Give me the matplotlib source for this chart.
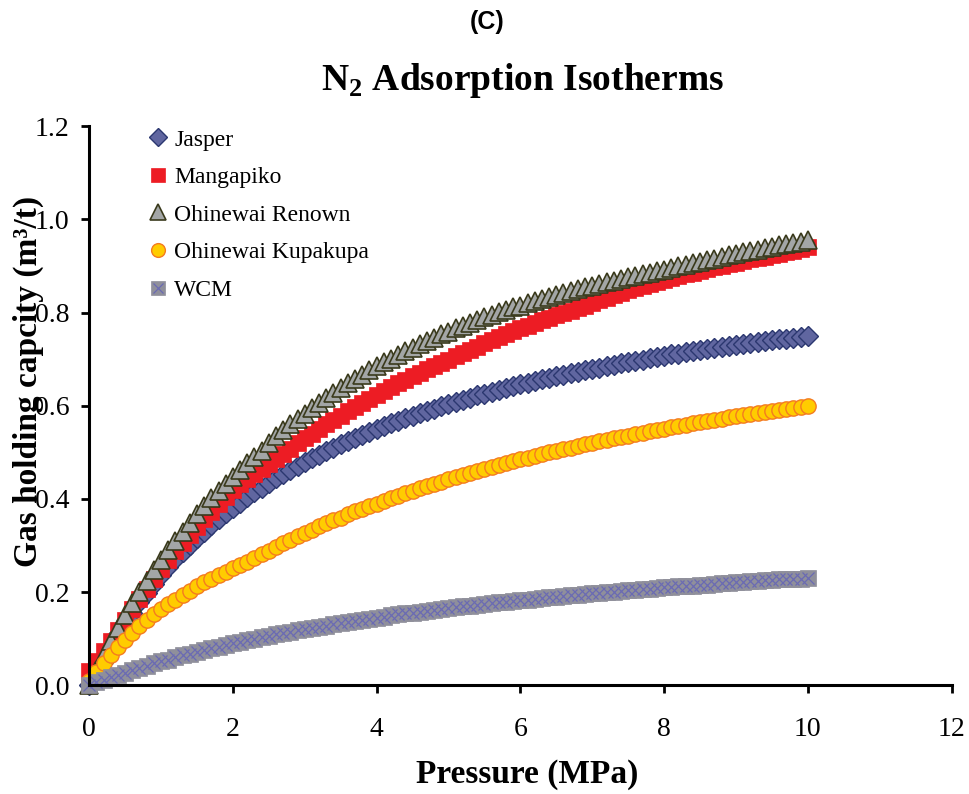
import matplotlib
matplotlib.use("Agg")
import matplotlib.pyplot as plt

# pressure steps (MPa)
pressure = [
    0.0, 0.1, 0.2, 0.3, 0.4, 0.5, 0.6, 0.7, 0.8, 0.9,
    1.0, 1.1, 1.2, 1.3, 1.4, 1.5, 1.6, 1.7, 1.8, 1.9,
    2.0, 2.1, 2.2, 2.3, 2.4, 2.5, 2.6, 2.7, 2.8, 2.9,
    3.0, 3.1, 3.2, 3.3, 3.4, 3.5, 3.6, 3.7, 3.8, 3.9,
    4.0, 4.1, 4.2, 4.3, 4.4, 4.5, 4.6, 4.7, 4.8, 4.9,
    5.0, 5.1, 5.2, 5.3, 5.4, 5.5, 5.6, 5.7, 5.8, 5.9,
    6.0, 6.1, 6.2, 6.3, 6.4, 6.5, 6.6, 6.7, 6.8, 6.9,
    7.0, 7.1, 7.2, 7.3, 7.4, 7.5, 7.6, 7.7, 7.8, 7.9,
    8.0, 8.1, 8.2, 8.3, 8.4, 8.5, 8.6, 8.7, 8.8, 8.9,
    9.0, 9.1, 9.2, 9.3, 9.4, 9.5, 9.6, 9.7, 9.8, 9.9,
    10.0,
]

# gas holding capacity (m3/t)
jasper = [
    0.000, 0.030, 0.058, 0.085, 0.110, 0.134, 0.156, 0.178, 0.198, 0.217,
    0.236, 0.253, 0.270, 0.286, 0.301, 0.316, 0.330, 0.343, 0.356, 0.369,
    0.381, 0.392, 0.403, 0.414, 0.424, 0.434, 0.444, 0.453, 0.462, 0.471,
    0.479, 0.487, 0.495, 0.503, 0.510, 0.517, 0.524, 0.531, 0.537, 0.544,
    0.550, 0.556, 0.562, 0.568, 0.573, 0.579, 0.584, 0.589, 0.594, 0.599,
    0.604, 0.608, 0.613, 0.617, 0.622, 0.626, 0.630, 0.634, 0.638, 0.642,
    0.646, 0.649, 0.653, 0.657, 0.660, 0.663, 0.667, 0.670, 0.673, 0.676,
    0.679, 0.682, 0.685, 0.688, 0.691, 0.694, 0.697, 0.699, 0.702, 0.705,
    0.707, 0.710, 0.712, 0.715, 0.717, 0.719, 0.722, 0.724, 0.726, 0.728,
    0.730, 0.732, 0.735, 0.737, 0.739, 0.741, 0.743, 0.744, 0.746, 0.748,
    0.750,
]

mangapiko = [
    0.030, 0.052, 0.074, 0.096, 0.118, 0.140, 0.163, 0.185, 0.207, 0.229,
    0.250, 0.269, 0.288, 0.306, 0.323, 0.340, 0.356, 0.372, 0.388, 0.404,
    0.420, 0.431, 0.442, 0.453, 0.464, 0.475, 0.486, 0.497, 0.508, 0.519,
    0.530, 0.540, 0.550, 0.560, 0.570, 0.579, 0.588, 0.597, 0.606, 0.615,
    0.624, 0.632, 0.640, 0.648, 0.656, 0.664, 0.671, 0.678, 0.685, 0.692,
    0.699, 0.706, 0.713, 0.720, 0.727, 0.734, 0.741, 0.748, 0.754, 0.760,
    0.766, 0.772, 0.778, 0.784, 0.789, 0.794, 0.799, 0.804, 0.809, 0.815,
    0.820, 0.826, 0.831, 0.837, 0.842, 0.848, 0.853, 0.857, 0.862, 0.866,
    0.870, 0.874, 0.878, 0.882, 0.886, 0.890, 0.893, 0.897, 0.900, 0.904,
    0.907, 0.910, 0.914, 0.917, 0.920, 0.923, 0.926, 0.929, 0.932, 0.936,
    0.940,
]

renown = [
    0.000, 0.033, 0.064, 0.094, 0.123, 0.150, 0.176, 0.201, 0.224, 0.247,
    0.269, 0.290, 0.310, 0.330, 0.349, 0.367, 0.384, 0.401, 0.417, 0.433,
    0.448, 0.462, 0.477, 0.490, 0.503, 0.520, 0.534, 0.547, 0.560, 0.571,
    0.583, 0.595, 0.606, 0.617, 0.627, 0.638, 0.648, 0.658, 0.667, 0.677,
    0.685, 0.693, 0.701, 0.709, 0.717, 0.724, 0.732, 0.739, 0.746, 0.753,
    0.759, 0.766, 0.772, 0.778, 0.784, 0.790, 0.795, 0.801, 0.805, 0.811,
    0.815, 0.820, 0.825, 0.829, 0.834, 0.838, 0.841, 0.846, 0.850, 0.854,
    0.858, 0.861, 0.865, 0.868, 0.872, 0.876, 0.879, 0.882, 0.885, 0.889,
    0.892, 0.895, 0.899, 0.903, 0.906, 0.909, 0.913, 0.916, 0.919, 0.923,
    0.926, 0.929, 0.932, 0.935, 0.938, 0.941, 0.944, 0.947, 0.949, 0.952,
    0.955,
]

kupakupa = [
    0.008, 0.028, 0.047, 0.065, 0.082, 0.098, 0.113, 0.127, 0.140, 0.152,
    0.163, 0.174, 0.184, 0.194, 0.203, 0.212, 0.221, 0.229, 0.237, 0.244,
    0.251, 0.258, 0.265, 0.273, 0.281, 0.289, 0.297, 0.305, 0.312, 0.320,
    0.327, 0.334, 0.341, 0.348, 0.354, 0.360, 0.367, 0.373, 0.379, 0.385,
    0.390, 0.396, 0.402, 0.407, 0.412, 0.417, 0.423, 0.428, 0.432, 0.437,
    0.442, 0.447, 0.451, 0.456, 0.460, 0.464, 0.468, 0.473, 0.477, 0.481,
    0.485, 0.488, 0.492, 0.496, 0.500, 0.503, 0.507, 0.510, 0.514, 0.517,
    0.520, 0.524, 0.527, 0.530, 0.533, 0.536, 0.539, 0.542, 0.545, 0.548,
    0.551, 0.554, 0.556, 0.559, 0.562, 0.565, 0.567, 0.570, 0.572, 0.575,
    0.577, 0.580, 0.582, 0.584, 0.587, 0.589, 0.591, 0.594, 0.596, 0.598,
    0.600,
]

wcm = [
    0.000, 0.006, 0.011, 0.017, 0.022, 0.027, 0.032, 0.037, 0.042, 0.047,
    0.051, 0.055, 0.060, 0.064, 0.068, 0.072, 0.075, 0.079, 0.083, 0.086,
    0.090, 0.093, 0.097, 0.100, 0.103, 0.106, 0.109, 0.112, 0.115, 0.118,
    0.120, 0.123, 0.126, 0.128, 0.131, 0.133, 0.136, 0.138, 0.141, 0.143,
    0.145, 0.147, 0.150, 0.152, 0.154, 0.156, 0.158, 0.160, 0.162, 0.164,
    0.166, 0.167, 0.169, 0.171, 0.173, 0.174, 0.176, 0.178, 0.179, 0.181,
    0.183, 0.184, 0.186, 0.187, 0.189, 0.190, 0.192, 0.193, 0.194, 0.196,
    0.197, 0.199, 0.200, 0.201, 0.202, 0.204, 0.205, 0.206, 0.207, 0.209,
    0.210, 0.211, 0.212, 0.213, 0.214, 0.215, 0.216, 0.218, 0.219, 0.220,
    0.221, 0.222, 0.223, 0.224, 0.225, 0.226, 0.227, 0.228, 0.228, 0.229,
    0.230,
]

x_ticks = [0, 2, 4, 6, 8, 10, 12]
y_ticks = [0.0, 0.2, 0.4, 0.6, 0.8, 1.0, 1.2]

serif = "Liberation Serif"
plt.rcParams["mathtext.fontset"] = "custom"
plt.rcParams["mathtext.rm"] = serif
plt.rcParams["mathtext.bf"] = serif + ":bold"

fig = plt.figure(figsize=(9.69, 7.94), dpi=100)
ax = fig.add_axes([0.092, 0.137, 0.890, 0.704])

h_jas, = ax.plot(pressure, jasper, ls="none", marker="D", ms=10.5,
                 mfc="#6066a0", mec="#2b3770", mew=1.0, clip_on=False)
h_man, = ax.plot(pressure, mangapiko, ls="none", marker="s", ms=11,
                 mfc="#ed1c24", mec="#ed1c24", mew=0.5, clip_on=False)
h_ren, = ax.plot(pressure, renown, ls="none", marker="^", ms=12.5,
                 mfc="#a3a6a6", mec="#3a3a1c", mew=1.2, clip_on=False)
h_kup, = ax.plot(pressure, kupakupa, ls="none", marker="o", ms=11,
                 mfc="#ffcc00", mec="#f47b20", mew=1.0, clip_on=False)
h_wsq, = ax.plot(pressure, wcm, ls="none", marker="s", ms=11.5,
                 mfc="#8f8f9b", mec="#8f8f9b", mew=0.5, clip_on=False)
h_wx, = ax.plot(pressure, wcm, ls="none", marker="x", ms=8,
                mec="#6a6ab4", mew=0.9, clip_on=False)

ax.set_xlim(0, 12)
ax.set_ylim(0, 1.2)
ax.set_xticks(x_ticks)
ax.set_yticks(y_ticks)
ax.set_xticklabels([str(t) for t in x_ticks], family=serif, fontsize=20)
ax.set_yticklabels([f"{t:.1f}" for t in y_ticks], family=serif, fontsize=20)

for side in ["top", "right"]:
    ax.spines[side].set_visible(False)
for side in ["left", "bottom"]:
    ax.spines[side].set_linewidth(2.2)
ax.tick_params(axis="both", direction="out", length=6, width=2)
ax.tick_params(axis="x", pad=17)
ax.tick_params(axis="y", pad=8)

leg = ax.legend([h_jas, h_man, h_ren, h_kup, (h_wsq, h_wx)],
                ["Jasper", "Mangapiko", "Ohinewai Renown", "Ohinewai Kupakupa", "WCM"],
                loc="upper left", bbox_to_anchor=(0.066, 0.995), frameon=False,
                prop={"family": serif, "size": 17}, handlelength=1.0,
                handletextpad=0.2, labelspacing=0.68, borderpad=0,
                borderaxespad=0, numpoints=1, markerscale=0.9)

fig.text(0.5026, 0.972, "(C)", ha="center", va="center",
         family="Liberation Sans", fontweight="bold", fontsize=18)
fig.text(0.539, 0.899, r"N$_\mathbf{2}$ Adsorption Isotherms", ha="center", va="center",
         family=serif, fontweight="bold", fontsize=27)
fig.text(0.029, 0.52, "Gas holding capcity (m³/t)", rotation=90, ha="center",
         va="center", family=serif, fontweight="bold", fontsize=24)
fig.text(0.544, 0.024, "Pressure (MPa)", ha="center", va="center",
         family=serif, fontweight="bold", fontsize=24)

fig.savefig("out.png", dpi=100)
